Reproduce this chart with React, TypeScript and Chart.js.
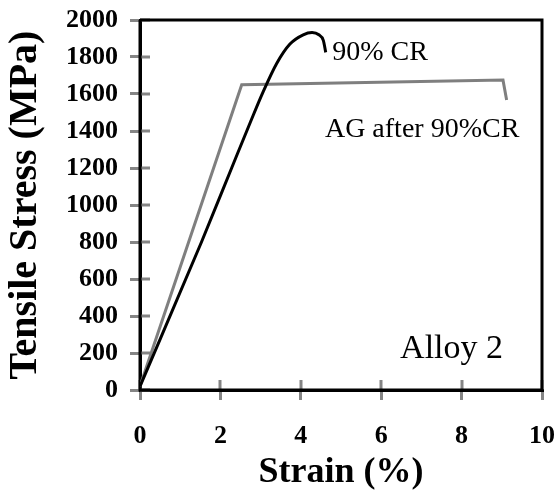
import React, { useEffect, useRef } from "react";
import { Chart, registerables } from "chart.js";

Chart.register(...registerables);

// 90% CR curve (strain %, stress MPa)
const crStrain = [0, 1.53, 2.28, 2.75, 3.06, 3.4, 3.73, 4.06, 4.28, 4.45, 4.56, 4.62];
const crStress = [20, 800, 1200, 1450, 1610, 1765, 1870, 1920, 1932, 1920, 1890, 1825];

// AG after 90%CR curve
const agStrain = [0, 2.53, 9.03, 9.12];
const agStress = [20, 1650, 1675, 1568];

const xTicks = [0, 2, 4, 6, 8, 10];
const yTicks = [0, 200, 400, 600, 800, 1000, 1200, 1400, 1600, 1800, 2000];

const seriesLabels = ["90% CR", "AG after 90%CR"];
const panelLabel = "Alloy 2";
const xTitle = "Strain (%)";
const yTitle = "Tensile Stress (MPa)";

const SERIF = "'Liberation Serif', 'Times New Roman', serif";

export default function App() {
  const ref = useRef<HTMLCanvasElement | null>(null);

  useEffect(() => {
    if (!ref.current) return;

    const innerTicks = {
      id: "innerTicks",
      beforeDatasetsDraw(chart: any) {
        const { ctx, chartArea } = chart;
        const xs = chart.scales.x;
        const ys = chart.scales.y;
        ctx.save();
        ctx.strokeStyle = "#858585";
        ctx.lineWidth = 3;
        ctx.beginPath();
        yTicks.forEach((v) => {
          const p = Math.round(ys.getPixelForValue(v));
          ctx.moveTo(chartArea.left, p);
          ctx.lineTo(chartArea.left + 10, p);
        });
        xTicks.forEach((v) => {
          const p = Math.round(xs.getPixelForValue(v));
          ctx.moveTo(p, chartArea.bottom);
          ctx.lineTo(p, chartArea.bottom - 10);
        });
        ctx.stroke();
        ctx.strokeStyle = "#000";
        ctx.lineWidth = 3;
        ctx.beginPath();
        ctx.moveTo(chartArea.left, chartArea.top);
        ctx.lineTo(chartArea.right, chartArea.top);
        ctx.lineTo(chartArea.right, chartArea.bottom);
        ctx.stroke();
        ctx.beginPath();
        ctx.moveTo(chartArea.left, chartArea.top);
        ctx.lineTo(chartArea.left, chartArea.bottom);
        ctx.lineTo(chartArea.right, chartArea.bottom);
        ctx.stroke();
        ctx.restore();
      },
    };

    const annotations = {
      id: "annotations",
      afterDatasetsDraw(chart: any) {
        const { ctx } = chart;
        const xs = chart.scales.x;
        const ys = chart.scales.y;
        ctx.save();
        ctx.fillStyle = "#000";
        ctx.textAlign = "left";
        ctx.textBaseline = "alphabetic";
        ctx.font = `28px ${SERIF}`;
        ctx.fillText(seriesLabels[0], xs.getPixelForValue(4.78), ys.getPixelForValue(1784));
        ctx.fillText(seriesLabels[1], xs.getPixelForValue(4.6), ys.getPixelForValue(1368));
        ctx.font = `34px ${SERIF}`;
        ctx.fillText(panelLabel, xs.getPixelForValue(6.47), ys.getPixelForValue(173));
        ctx.restore();
      },
    };

    const chart = new Chart(ref.current, {
      type: "scatter",
      data: {
        datasets: [
          {
            label: seriesLabels[0],
            data: crStrain.map((x, i) => ({ x, y: crStress[i] })),
            showLine: true,
            borderColor: "#000000",
            borderWidth: 3,
            pointRadius: 0,
            cubicInterpolationMode: "monotone",
          },
          {
            label: seriesLabels[1],
            data: agStrain.map((x, i) => ({ x, y: agStress[i] })),
            showLine: true,
            borderColor: "#7f7f7f",
            borderWidth: 3,
            pointRadius: 0,
            tension: 0,
          },
        ],
      },
      options: {
        animation: false,
        responsive: true,
        maintainAspectRatio: false,
        layout: { padding: { top: 20, right: 15, left: 0, bottom: 0 } },
        plugins: { legend: { display: false }, tooltip: { enabled: false } },
        scales: {
          x: {
            type: "linear",
            min: 0,
            max: 10,
            afterBuildTicks: (s: any) => {
              s.ticks = xTicks.map((v) => ({ value: v }));
            },
            afterFit: (s: any) => {
              s.height = 104;
              s.paddingLeft = 0;
              s.paddingRight = 0;
            },
            ticks: {
              color: "#000",
              font: { family: SERIF, size: 26, weight: "bold" },
              padding: 21,
              maxRotation: 0,
              callback: (v: any) => String(v),
            },
            grid: {
              drawOnChartArea: false,
              drawTicks: true,
              tickLength: 10,
              color: "#858585",
              lineWidth: 3,
            },
            border: { display: true, color: "#000", width: 3 },
            title: {
              display: true,
              text: xTitle,
              color: "#000",
              font: { family: SERIF, size: 36, weight: "bold" },
              padding: { top: 0, bottom: 0 },
            },
          },
          y: {
            type: "linear",
            min: 0,
            max: 2000,
            afterBuildTicks: (s: any) => {
              s.ticks = yTicks.map((v) => ({ value: v }));
            },
            afterFit: (s: any) => {
              s.width = 140;
              s.paddingTop = 0;
              s.paddingBottom = 0;
            },
            ticks: {
              color: "#000",
              font: { family: SERIF, size: 26, weight: "bold" },
              padding: 12,
              callback: (v: any) => String(v),
            },
            grid: {
              drawOnChartArea: false,
              drawTicks: true,
              tickLength: 10,
              color: "#858585",
              lineWidth: 3,
            },
            border: { display: true, color: "#000", width: 3 },
            title: {
              display: true,
              text: yTitle,
              color: "#000",
              font: { family: SERIF, size: 40, weight: "bold" },
              padding: { top: 2, bottom: 0 },
            },
          },
        },
      },
      plugins: [innerTicks, annotations],
    });

    return () => chart.destroy();
  }, []);

  return (
    <div style={{ position: "absolute", left: 0, top: 0, width: 557, height: 494, background: "#fff" }}>
      <canvas ref={ref} />
    </div>
  );
}
